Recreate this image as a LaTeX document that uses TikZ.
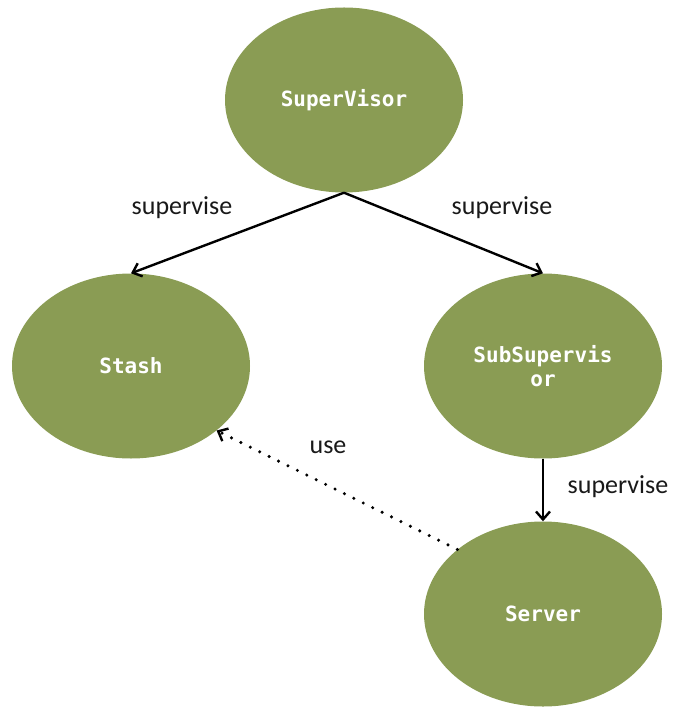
\documentclass[tikz,border=0pt]{standalone}
\usepackage{fontspec}
\setmainfont{Carlito}
\newfontfamily\nodefont{DejaVu Sans Mono}
\usetikzlibrary{arrows.meta,shapes.geometric}
\definecolor{olive}{RGB}{138,156,84}
\tikzset{
  actor/.style={ellipse, fill=olive, draw=none, inner sep=0pt,
    minimum width=238pt, minimum height=185pt, text=white, align=center,
    font=\nodefont\bfseries\fontsize{21}{24}\selectfont},
  link/.style={line width=2.4pt, -{Straight Barb[length=8pt,width=14pt,line width=2.4pt]}},
  uselink/.style={line width=3.4pt, line cap=round, dash pattern=on 0pt off 10.5pt,
    -{Straight Barb[length=8pt,width=14pt,line width=2.4pt]}},
  lbl/.style={font=\fontsize{26}{30}\selectfont, text=black!90, inner sep=0pt}
}
\begin{document}
\begin{tikzpicture}[x=1pt,y=-1pt]
  \useasboundingbox (0,0) rectangle (675,708);
  % actors
  \node[actor] (sv) at (344,100) {SuperVisor};
  \node[actor] (stash) at (131,366) {Stash};
  \node[actor] (sub) at (543,366) {SubSupervis\\or};
  \node[actor] (server) at (543,614) {Server};
  % supervision links
  \draw[link] (sv.south) -- (stash.north);
  \draw[link] (sv.south) -- (sub.north);
  \draw[link] (sub.south) -- (server.north);
  % usage link
  \draw[uselink] (server.143) -- (stash.-37);
  % labels
  \node[lbl] (l1) at (182,208) {supervise};
  \node[lbl] (l2) at (502,208) {supervise};
  \node[lbl] (l3) at (618,487) {supervise};
  \node[lbl] (l4) at (328,447) {use};
\end{tikzpicture}
\end{document}
